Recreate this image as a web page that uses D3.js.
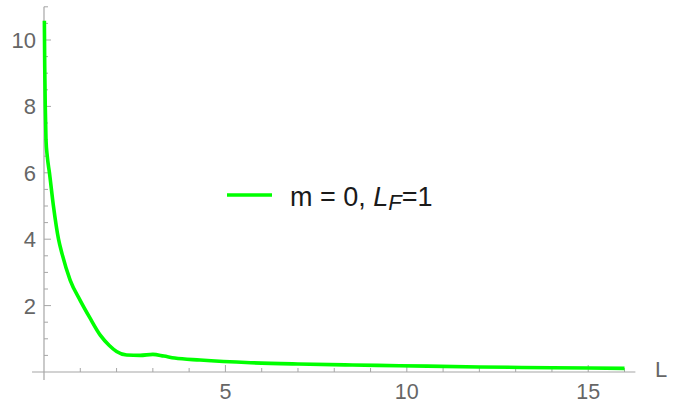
<!DOCTYPE html>
<html>
<head>
<meta charset="utf-8">
<script src="https://cdn.jsdelivr.net/npm/d3@7"></script>
<style>
  body { margin: 0; background: #fff; }
  svg { display: block; font-family: "Liberation Sans", Arial, sans-serif; }
</style>
</head>
<body>
<svg id="chart" width="681" height="404"></svg>
<script>
// curve
const lValues = [0.01, 0.02, 0.035, 0.055, 0.09, 0.15, 0.26, 0.40, 0.50, 0.72, 1.0, 1.27, 1.55, 1.8, 2.0, 2.28, 2.65, 3.0, 3.3, 3.6, 4.3, 5.7, 7.0, 8.5, 9.8, 12, 14, 16];
const yValues = [10.58, 9.2, 8.0, 7.0, 6.5, 6.0, 5.0, 4.0, 3.55, 2.77, 2.15, 1.62, 1.11, 0.8, 0.62, 0.51, 0.50, 0.53, 0.48, 0.42, 0.36, 0.28, 0.24, 0.21, 0.19, 0.15, 0.13, 0.11];
const xTicks = [5, 10, 15];
const yTicks = [2, 4, 6, 8, 10];
const seriesName = ['m = 0, ', 'L', 'F', '=1'];

const svg = d3.select('#chart');
const axisColor = '#a6a6a6';
const labelColor = '#666';

const x = d3.scaleLinear().domain([0, 16]).range([44, 624.5]);
const y = d3.scaleLinear().domain([0, 10]).range([372, 40]);

const data = lValues.map((l, i) => ({ l: l, v: yValues[i] }));

// axes lines
svg.append('line')
    .attr('x1', x(-0.33)).attr('x2', x(16.3))
    .attr('y1', y(0)).attr('y2', y(0))
    .attr('stroke', axisColor).attr('stroke-width', 1.2);
svg.append('line')
    .attr('x1', x(0)).attr('x2', x(0))
    .attr('y1', y(-0.24)).attr('y2', y(11))
    .attr('stroke', axisColor).attr('stroke-width', 1.2);

// x ticks
const xMinor = d3.range(1, 17);
svg.selectAll('.xtick')
    .data(xMinor).enter().append('line')
    .attr('x1', d => x(d)).attr('x2', d => x(d))
    .attr('y1', y(0)).attr('y2', d => y(0) - (d % 5 === 0 ? 7 : 4))
    .attr('stroke', axisColor).attr('stroke-width', 1);

svg.selectAll('.xlabel')
    .data(xTicks).enter().append('text')
    .attr('x', d => x(d)).attr('y', 399)
    .attr('text-anchor', 'middle')
    .attr('font-size', 21.5)
    .attr('fill', labelColor)
    .text(d => d);

// y ticks
const yMinor = d3.range(1, 23).map(d => d / 2);
svg.selectAll('.ytick')
    .data(yMinor).enter().append('line')
    .attr('x1', x(0)).attr('x2', d => x(0) + (d % 2 === 0 ? 7 : 4))
    .attr('y1', d => y(d)).attr('y2', d => y(d))
    .attr('stroke', axisColor).attr('stroke-width', 1);

svg.selectAll('.ylabel')
    .data(yTicks).enter().append('text')
    .attr('x', 36).attr('y', d => y(d) + 8)
    .attr('text-anchor', 'end')
    .attr('font-size', 22)
    .attr('fill', labelColor)
    .text(d => d);

svg.append('text')
    .attr('x', 655).attr('y', 377)
    .attr('font-size', 22)
    .attr('fill', labelColor)
    .text('L');

// curve
const line = d3.line()
    .x(d => x(d.l))
    .y(d => y(d.v))
    .curve(d3.curveMonotoneX);

svg.append('path')
    .datum(data)
    .attr('d', line)
    .attr('fill', 'none')
    .attr('stroke', '#00ff00')
    .attr('stroke-width', 3.6)
    .attr('stroke-linejoin', 'round');

// legend
svg.append('line')
    .attr('x1', 227).attr('x2', 272)
    .attr('y1', 195).attr('y2', 195)
    .attr('stroke', '#00ff00').attr('stroke-width', 3.6);

const leg = svg.append('text')
    .attr('x', 290).attr('y', 206)
    .attr('font-size', 27)
    .attr('fill', '#1a1a1a');
leg.append('tspan').text(seriesName[0]);
leg.append('tspan').attr('font-style', 'italic').text(seriesName[1]);
leg.append('tspan').attr('font-style', 'italic').attr('font-size', 22).attr('dy', 4).text(seriesName[2]);
leg.append('tspan').attr('dy', -4).text(seriesName[3]);
</script>
</body>
</html>
